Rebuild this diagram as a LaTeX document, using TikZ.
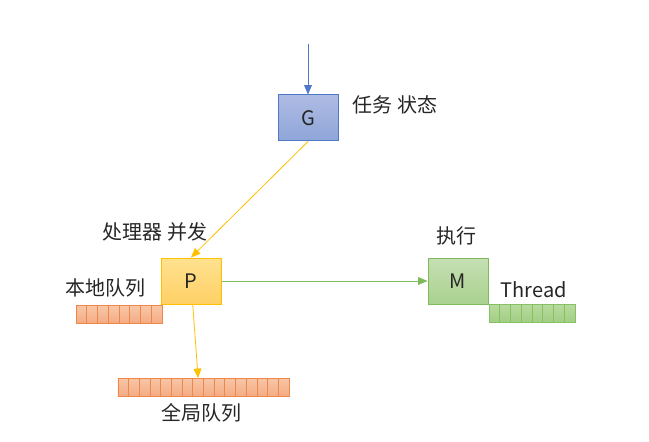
\documentclass[tikz,border=0pt]{standalone}
\usepackage{fontspec}
\setmainfont{Noto Sans CJK SC}
\usetikzlibrary{arrows,positioning}
\definecolor{gline}{HTML}{4F79C7}
\definecolor{gtop}{HTML}{AEBBE3}
\definecolor{gbot}{HTML}{8FA6D9}
\definecolor{pline}{HTML}{FFC000}
\definecolor{ptop}{HTML}{FFE18F}
\definecolor{pbot}{HTML}{FFD066}
\definecolor{mline}{HTML}{7FBA5B}
\definecolor{mtop}{HTML}{C5E0B4}
\definecolor{mbot}{HTML}{A9D18E}
\definecolor{qline}{HTML}{F0874A}
\definecolor{qtop}{HTML}{F8C6A6}
\definecolor{qbot}{HTML}{F4AC84}
\definecolor{tline}{HTML}{86C064}
\definecolor{ttop}{HTML}{B9DB9F}
\definecolor{tbot}{HTML}{A2CE84}
\definecolor{txt}{HTML}{262626}

\begin{document}
\begin{tikzpicture}[x=0.75pt,y=-0.75pt,>=triangle 45,
    font=\fontsize{15}{18}\selectfont,text=txt,
    box/.style={draw,line width=0.75pt,minimum width=45pt,minimum height=34.5pt,inner sep=0pt},
    cell/.style={draw,line width=0.6pt,minimum width=8pt,minimum height=13pt,inner sep=0pt,outer sep=0pt},
    qcell/.style={cell,draw=qline,top color=qtop,bottom color=qbot},
    tcell/.style={cell,draw=tline,top color=ttop,bottom color=tbot}]

    \useasboundingbox (0,0) rectangle (649,442);

    \node[box,draw=gline,top color=gtop,bottom color=gbot] (g) at (308,118) {G};
    \node[box,draw=pline,top color=ptop,bottom color=pbot] (p) at (191,281) {P};
    \node[box,draw=mline,top color=mtop,bottom color=mbot] (m) at (458,281) {M};

    \node[anchor=west] (g_lbl) at (348,105) {任务 状态};
    \node (p_lbl) at (155,232) {处理器 并发};
    \node (ql_lbl) at (105,288) {本地队列};
    \node (m_lbl) at (456,236) {执行};
    \node[anchor=west] (t_lbl) at (496,290) {Thread};
    \node (qg_lbl) at (201,413) {全局队列};

    % queues
    \foreach \i in {0,...,7}
        \node[qcell] (ql_\i) at ({81.4+10.75*\i},314.5) {};
    \foreach \i in {0,...,15}
        \node[qcell,minimum height=13.5pt] (qg_\i) at ({123.3+10.69*\i},387) {};
    \foreach \i in {0,...,7}
        \node[tcell,minimum height=13.5pt] (qt_\i) at ({494.4+10.75*\i},313) {};

    \coordinate (g_in) at (308,44);

    \path[->,line width=0.6pt]
    (g_in) edge [draw=gline] (g)
    (g.south) edge [draw=pline] (p.north)
    (p) edge [draw=pline] (qg_7.north)
    (p) edge [draw=mline] (m);

\end{tikzpicture}
\end{document}
